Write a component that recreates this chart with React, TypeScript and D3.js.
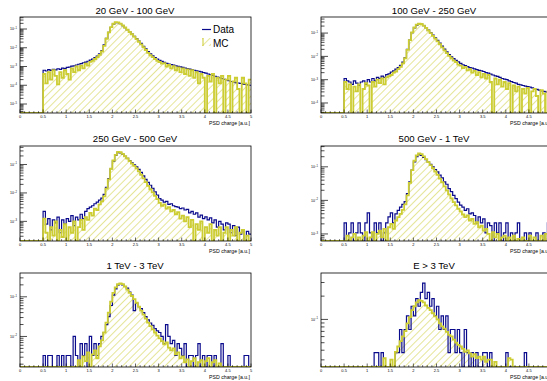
import React from 'react';
import * as d3 from 'd3';

const _ = null;

const TITLES = ["20 GeV - 100 GeV", "100 GeV - 250 GeV", "250 GeV - 500 GeV", "500 GeV - 1 TeV", "1 TeV - 3 TeV", "E > 3 TeV"];
const X_TITLE = "PSD charge [a.u.]";
const X_TICKS = [0, 0.5, 1, 1.5, 2, 2.5, 3, 3.5, 4, 4.5, 5];
const X_TICK_LABELS = ["0", "0.5", "1", "1.5", "2", "2.5", "3", "3.5", "4", "4.5", "5"];
const BIN_START = 0.5;
const BIN_WIDTH = 0.05;
// log10 of the y-axis range per panel
const Y_LOG_MIN = [-5.48, -4.43, -3.69, -3.21, -2.77, -1.615];
const Y_LOG_MAX = [-0.36, -0.31, -0.35, -0.38, -0.40, -0.40];
const Y_DECADES = [[-5, -4, -3, -2, -1], [-4, -3, -2, -1], [-3, -2, -1], [-3, -2, -1], [-2, -1], [-1]];

// bin contents as log10 values, bins of 0.05 from 0.50 to 5.00 (null = empty)
const DATA_1 = [-3.20,-3.24,-3.17,-3.21,-3.15,-3.18,-3.12,-3.15,-3.09,-3.11,
 -3.05,-3.03,-2.98,-2.97,-2.92,-2.88,-2.85,-2.80,-2.77,-2.72,
 -2.66,-2.60,-2.52,-2.44,-2.32,-2.15,-1.85,-1.50,-1.18,-0.92,
 -0.74,-0.66,-0.66,-0.72,-0.82,-0.93,-1.04,-1.15,-1.27,-1.39,
 -1.51,-1.64,-1.77,-1.92,-2.06,-2.20,-2.32,-2.43,-2.52,-2.60,
 -2.67,-2.73,-2.78,-2.83,-2.87,-2.90,-2.93,-2.96,-2.99,-3.02,
 -3.05,-3.08,-3.11,-3.14,-3.17,-3.20,-3.23,-3.26,-3.29,-3.32,
 -3.35,-3.40,-3.44,-3.48,-3.52,-3.56,-3.60,-3.64,-3.68,-3.72,
 -3.76,-3.80,-3.82,-3.86,-3.88,-3.90,-3.94,-3.96,-3.98,-4.00];
const MC_1 = [-3.40,-3.90,-3.30,-3.70,-3.20,-3.50,-3.95,-3.30,-3.60,-3.20,
 -3.40,-3.70,-3.10,-3.30,-3.00,-3.20,-2.95,-3.10,-2.85,-2.95,
 -2.75,-2.70,-2.60,-2.50,-2.38,-2.20,-1.90,-1.52,-1.18,-0.90,
 -0.72,-0.64,-0.65,-0.71,-0.81,-0.92,-1.04,-1.16,-1.28,-1.41,
 -1.54,-1.68,-1.82,-1.97,-2.12,-2.27,-2.40,-2.50,-2.60,-2.70,
 -2.76,-2.85,-2.82,-3.00,-2.92,-3.10,-2.98,-3.20,-3.05,-3.30,
 -3.10,-3.40,-3.15,-3.50,-3.20,-3.60,-3.30,-3.90,-3.40,-3.60,
 _,-3.50,-3.80,-3.40,_,-3.60,-3.90,-3.50,_,-3.70,
 -3.50,_,-3.80,-3.60,-4.20,_,-3.60,-3.90,_,-3.70];

const DATA_2 = [-2.95,-3.05,-3.10,-3.20,-3.05,-3.15,-3.25,-3.10,-3.05,-3.20,
 -3.00,-3.10,-2.95,-3.05,-2.90,-2.95,-2.85,-2.90,-2.78,-2.75,
 -2.68,-2.62,-2.55,-2.48,-2.38,-2.25,-2.05,-1.70,-1.30,-0.98,
 -0.78,-0.66,-0.61,-0.62,-0.68,-0.77,-0.87,-0.98,-1.09,-1.20,
 -1.31,-1.43,-1.56,-1.69,-1.81,-1.92,-2.02,-2.10,-2.17,-2.24,
 -2.30,-2.36,-2.40,-2.44,-2.48,-2.50,-2.54,-2.57,-2.60,-2.62,
 -2.65,-2.70,-2.72,-2.76,-2.80,-2.84,-2.86,-2.90,-2.95,-2.98,
 -3.00,-3.05,-3.08,-3.12,-3.15,-3.20,-3.22,-3.25,-3.28,-3.30,
 -3.32,-3.35,-3.40,-3.42,-3.45,-3.48,-3.50,-3.52,-3.55,-3.58];
const MC_2 = [-3.10,-3.40,-3.20,_,-3.30,-3.50,-3.20,_,-3.40,-3.15,
 -3.25,_,-3.10,-3.30,-3.00,-3.15,-2.95,-3.20,-2.90,-2.85,
 -2.80,-2.70,-2.65,-2.55,-2.45,-2.30,-2.08,-1.72,-1.30,-0.97,
 -0.76,-0.64,-0.60,-0.61,-0.68,-0.78,-0.89,-1.00,-1.12,-1.24,
 -1.36,-1.48,-1.61,-1.74,-1.86,-1.98,-2.08,-2.18,-2.25,-2.35,
 -2.40,-2.50,-2.45,-2.60,-2.55,-2.70,-2.62,-2.80,-2.68,-2.90,
 -2.75,-2.95,-2.80,-3.10,_,-2.95,-3.20,-3.00,-3.30,-3.10,
 -3.40,-3.15,_,-3.25,-3.50,-3.30,_,-3.40,-3.60,-3.35,
 _,-3.50,-3.40,-3.70,_,-3.45,-3.60,_,-3.50,-3.70];

const DATA_3 = [-2.65,-3.10,-2.90,-3.30,-2.95,-3.05,-2.85,-3.40,-2.95,-3.10,
 -2.90,-3.00,-2.80,-3.15,-2.85,-2.95,-2.75,-2.90,-2.65,-2.55,
 -2.50,-2.45,-2.38,-2.32,-2.25,-2.18,-2.05,-1.80,-1.50,-1.15,
 -0.88,-0.68,-0.58,-0.59,-0.64,-0.71,-0.78,-0.86,-0.94,-1.01,
 -1.08,-1.17,-1.28,-1.40,-1.52,-1.63,-1.73,-1.84,-1.96,-2.08,
 -2.20,-2.25,-2.32,-2.30,-2.40,-2.38,-2.45,-2.48,-2.50,-2.55,
 -2.53,-2.60,-2.58,-2.70,-2.65,-2.75,-2.70,-2.85,-2.78,-2.90,
 -2.84,-2.95,-2.88,-3.05,-2.95,-3.20,-3.00,-3.10,-3.30,-3.05,
 -3.10,-3.40,-3.15,-3.50,-3.20,-3.45,-3.30,_,-3.35,-3.45];
const MC_3 = [-2.90,-3.40,_,-3.20,-3.50,-3.00,_,-3.30,-3.55,-3.10,
 _,-3.20,-3.40,-3.00,_,-3.20,-2.95,-3.30,-2.85,-2.95,
 -2.70,-2.80,-2.55,-2.60,-2.40,-2.30,-2.12,-1.85,-1.52,-1.15,
 -0.86,-0.66,-0.56,-0.57,-0.63,-0.71,-0.79,-0.88,-0.97,-1.05,
 -1.14,-1.24,-1.36,-1.49,-1.62,-1.75,-1.87,-1.98,-2.10,-2.22,
 -2.35,-2.45,-2.40,-2.55,-2.50,-2.65,-2.60,-2.75,-2.68,-2.90,
 -2.80,-3.00,-2.85,-3.20,-2.95,_,-3.10,-3.30,-3.00,_,
 -3.20,-3.40,-3.10,_,-3.30,-3.50,-3.20,_,-3.40,-3.20,
 _,-3.30,-3.50,-3.20,_,-3.40,-3.30,_,-3.50,_];

const DATA_4 = [-2.67,_,-2.97,-2.67,_,-2.97,-2.67,-2.97,_,-2.67,
 -2.37,-2.97,_,-2.67,-2.97,-2.67,_,-2.97,-2.67,-2.49,
 -2.37,-2.67,-2.40,-2.30,-2.20,-2.12,-2.04,-1.80,-1.45,-1.10,
 -0.85,-0.70,-0.64,-0.66,-0.72,-0.79,-0.86,-0.93,-1.00,-1.08,
 -1.15,-1.25,-1.33,-1.45,-1.52,-1.65,-1.74,-1.85,-1.95,-2.05,
 -2.14,-2.20,-2.30,-2.25,-2.40,-2.37,-2.45,-2.67,-2.49,-2.67,
 -2.55,-2.97,-2.67,-2.75,_,-2.67,-2.97,-2.67,_,-2.97,
 -2.67,_,-2.97,_,-2.97,-2.67,_,_,-2.97,_,
 -2.97,_,_,-2.97,_,_,-2.97,_,-2.67,_];
const MC_4 = [_,-3.05,_,-3.10,-3.00,_,-3.10,_,-3.05,-2.95,
 _,-3.10,-2.95,_,-3.00,-2.90,-3.10,-2.85,_,-2.80,
 -2.70,-2.85,-2.60,-2.50,-2.40,-2.28,-2.12,-1.85,-1.48,-1.10,
 -0.82,-0.66,-0.60,-0.62,-0.69,-0.77,-0.86,-0.95,-1.04,-1.14,
 -1.24,-1.35,-1.46,-1.58,-1.70,-1.82,-1.94,-2.05,-2.15,-2.25,
 -2.33,-2.42,-2.50,-2.45,-2.60,-2.55,-2.70,-2.65,-2.80,-2.75,
 -2.90,-2.85,-3.00,_,-2.95,-3.10,-3.00,_,-3.10,-3.05,
 _,-3.10,_,-3.05,_,-3.15,_,-3.10,_,_,
 -3.05,_,-3.10,_,_,-3.05,_,-3.00,_,-3.10];

const DATA_5 = [-2.48,_,-2.48,-2.48,_,_,-2.48,_,-2.48,_,
 -2.48,-2.48,_,-2.00,-2.48,_,-2.18,-2.48,-2.18,_,
 -2.00,-2.48,-2.18,-2.48,-2.18,-2.00,-1.90,-1.70,-1.50,-1.22,
 -0.96,-0.80,-0.70,-0.67,-0.70,-0.74,-0.78,-0.88,-0.96,-1.35,
 -1.16,-1.25,-1.30,-1.40,-1.50,-1.58,-1.66,-1.72,-1.80,-1.86,
 -1.90,-2.00,-2.18,-1.70,-2.00,-2.18,-2.10,-2.48,-2.18,-2.30,
 -2.48,-2.18,_,-2.48,-2.48,_,-2.48,-2.18,_,-2.48,
 _,-2.48,-2.48,_,-2.48,_,_,-2.18,_,_,
 -2.48,_,_,_,_,_,_,-2.48,-2.48,_];
const MC_5 = [_,_,_,_,_,_,_,_,_,_,
 _,_,_,_,_,-2.60,_,-2.50,-2.62,-2.40,
 _,-2.45,-2.35,-2.55,-2.25,-2.10,-1.90,-1.65,-1.40,-1.12,
 -0.90,-0.76,-0.68,-0.66,-0.68,-0.74,-0.82,-0.90,-0.98,-1.06,
 -1.15,-1.25,-1.35,-1.45,-1.55,-1.65,-1.74,-1.82,-1.90,-1.98,
 -2.05,-2.12,-2.20,-2.15,-2.28,-2.35,-2.30,-2.45,-2.40,-2.55,
 -2.50,-2.65,-2.58,_,-2.62,-2.55,_,-2.65,-2.60,_,
 -2.62,-2.55,_,-2.65,-2.60,_,-2.68,_,_,_,
 _,_,_,_,_,_,_,_,_,_];

const DATA_6 = [_,_,_,_,_,_,_,_,_,_,
 _,_,_,-1.43,-1.43,_,-1.43,_,_,_,
 _,_,-1.43,-1.43,-1.13,-1.43,-1.13,-0.955,-1.13,-0.83,
 -0.955,-0.73,-0.83,-0.65,-0.53,-0.73,-0.65,-0.83,-0.73,-0.955,
 -0.83,-1.13,-0.955,-1.13,-0.955,-1.43,-1.13,-1.13,-1.43,-1.13,
 -1.43,_,-1.13,-1.43,_,-1.43,_,-1.43,_,_,
 -1.43,-1.43,_,-1.43,_,_,_,_,_,_,
 -1.43,_,_,_,_,_,_,_,-1.43,_,
 _,_,_,_,_,_,_,_,_,_];
const MC_6 = [_,_,_,_,_,_,_,_,_,_,
 _,_,_,_,_,_,_,-1.50,_,_,
 -1.52,_,-1.42,-1.35,-1.28,-1.22,-1.15,-1.05,-0.97,-0.88,
 -0.83,-0.78,-0.75,-0.76,-0.78,-0.82,-0.85,-0.88,-0.92,-0.96,
 -1.00,-1.05,-1.09,-1.12,-1.16,-1.20,-1.22,-1.26,-1.30,-1.33,
 -1.35,-1.38,-1.42,-1.40,-1.44,-1.48,-1.45,-1.50,-1.48,-1.52,
 -1.48,-1.55,-1.52,-1.52,_,-1.55,_,_,_,_,
 _,-1.50,-1.52,_,_,_,_,_,_,_,
 _,_,_,_,_,_,_,_,_,_];

const DATA_SERIES = [DATA_1, DATA_2, DATA_3, DATA_4, DATA_5, DATA_6];
const MC_SERIES = [MC_1, MC_2, MC_3, MC_4, MC_5, MC_6];

const W = 547, H = 381;
const FONT = "'Liberation Sans', Arial, Helvetica, sans-serif";
const DATA_COLOR = "#0a0a8c";
const MC_COLOR = "#cccc33";

// frame geometry
const COL_X = [[20, 251], [321, 552]];
const ROW_Y = [[17, 113], [146, 241], [273, 367]];
const TITLE_X = [135, 434];
const TITLE_Y = [14, 142, 269];

type Pt = [number, number];

function Panel({ idx }: { idx: number }) {
  const col = idx % 2, row = Math.floor(idx / 2);
  const [fx0, fx1] = COL_X[col];
  const [fy0, fy1] = ROW_Y[row];
  const x = d3.scaleLinear().domain([0, 5]).range([fx0, fx1]);
  const y = d3.scaleLog().domain([Math.pow(10, Y_LOG_MIN[idx]), Math.pow(10, Y_LOG_MAX[idx])]).range([fy1, fy0]);
  const yb = fy1;
  const toPts = (vals: (number | null)[]): Pt[] => {
    const pts: Pt[] = [[0, yb]];
    vals.forEach((v, i) => {
      pts.push([BIN_START + i * BIN_WIDTH, v == null ? yb : Math.min(yb, y(Math.pow(10, v)))]);
    });
    pts.push([5, pts[pts.length - 1][1]]);
    return pts;
  };
  const dPts = toPts(DATA_SERIES[idx]);
  const mPts = toPts(MC_SERIES[idx]);
  const line = d3.line<Pt>().x(d => x(d[0])).y(d => d[1]).curve(d3.curveStepAfter);
  const area = d3.area<Pt>().x(d => x(d[0])).y0(yb).y1(d => d[1]).curve(d3.curveStepAfter);
  const clipId = `clip${idx}`;

  const minorX = d3.range(0, 51).map(i => i / 10);
  const yMinor: number[] = [];
  for (let dd = Math.floor(Y_LOG_MIN[idx]); dd <= Math.ceil(Y_LOG_MAX[idx]); dd++) {
    for (let k = 1; k <= 9; k++) {
      const lv = dd + Math.log10(k);
      if (lv >= Y_LOG_MIN[idx] && lv <= Y_LOG_MAX[idx]) yMinor.push(k * Math.pow(10, dd));
    }
  }

  return (
    <g>
      <defs>
        <clipPath id={clipId}><rect x={fx0} y={fy0} width={fx1 - fx0} height={fy1 - fy0} /></clipPath>
      </defs>
      <text x={TITLE_X[col]} y={TITLE_Y[row]} textAnchor="middle" fontSize={9.6} fontFamily={FONT} fill="#000">{TITLES[idx]}</text>
      <g clipPath={`url(#${clipId})`}>
        <path d={area(mPts) || ""} fill="url(#hatch)" stroke="none" />
        <path d={line(dPts) || ""} fill="none" stroke={DATA_COLOR} strokeWidth={1.2} />
        <path d={line(mPts) || ""} fill="none" stroke={MC_COLOR} strokeWidth={1.8} />
      </g>
      {/* x ticks */}
      {minorX.map((t, i) => {
        const major = i % 5 === 0;
        return <line key={"xm" + i} x1={x(t)} x2={x(t)} y1={fy1} y2={fy1 - (major ? 3.5 : 1.8)} stroke="#000" strokeWidth={0.6} />;
      })}
      {X_TICKS.map((t, i) => (
        <text key={"xl" + i} x={x(t)} y={fy1 + 5} textAnchor="middle" fontSize={4} fontFamily={FONT} fill="#000">{X_TICK_LABELS[i]}</text>
      ))}
      <text x={fx1 - 1} y={fy1 + 11.5} textAnchor="end" fontSize={5.2} fontFamily={FONT} fill="#000">{X_TITLE}</text>
      {/* y ticks */}
      {yMinor.map((v, i) => {
        const major = Math.abs(Math.log10(v) - Math.round(Math.log10(v))) < 1e-9;
        return <line key={"ym" + i} x1={fx0} x2={fx0 + (major ? 7 : 3.5)} y1={y(v)} y2={y(v)} stroke="#000" strokeWidth={0.7} />;
      })}
      {Y_DECADES[idx].map((e, i) => (
        <text key={"yl" + i} x={fx0 - 3} y={y(Math.pow(10, e)) + 1.3} textAnchor="end" fontSize={3.6} fontFamily={FONT} fill="#000">
          10<tspan dy={-1.4} fontSize={2.6}>{String(e).replace("-", "\u2212")}</tspan>
        </text>
      ))}
      <rect x={fx0} y={fy0} width={fx1 - fx0} height={fy1 - fy0} fill="none" stroke="#000" strokeWidth={0.8} />
    </g>
  );
}

export default function App() {
  return (
    <svg width={W} height={H} style={{ position: 'absolute', left: 0, top: 0, background: '#fff' }}>
      <defs>
        <pattern id="hatch" patternUnits="userSpaceOnUse" width={5} height={5} patternTransform="rotate(45)">
          <line x1={0} y1={0} x2={0} y2={5} stroke={MC_COLOR} strokeWidth={1} />
        </pattern>
      </defs>
      <rect x={0} y={0} width={W} height={H} fill="#fff" />
      {[0, 1, 2, 3, 4, 5].map(i => <Panel key={i} idx={i} />)}
      {/* legend */}
      <line x1={202} x2={211} y1={29.5} y2={29.5} stroke={DATA_COLOR} strokeWidth={1.2} />
      <text x={213} y={33} fontSize={10} fontFamily={FONT} fill="#000">Data</text>
      <rect x={202} y={38} width={9} height={8} fill="url(#hatch)" stroke="none" />
      <line x1={203} x2={203} y1={38} y2={46} stroke={MC_COLOR} strokeWidth={1} />
      <text x={213} y={47} fontSize={10} fontFamily={FONT} fill="#000">MC</text>
    </svg>
  );
}
